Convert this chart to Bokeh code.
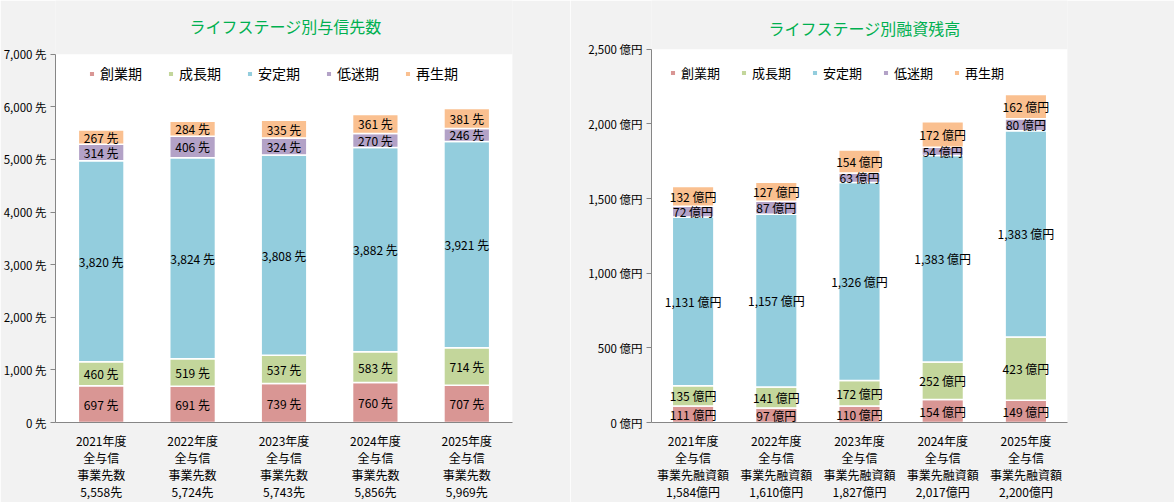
from bokeh.plotting import figure
from bokeh.models import (ColumnDataSource, FactorRange, Range1d, FixedTicker, Legend,
                          LegendItem, BoxAnnotation, Label)
from bokeh.layouts import row
from bokeh.embed import file_html
from bokeh.resources import INLINE
from bokeh.core.properties import value

FONT = "Noto Sans CJK JP"

stages = ["創業期", "成長期", "安定期", "低迷期", "再生期"]
colors = ["#d99694", "#c3d69b", "#93cddd", "#b3a2c7", "#fac090"]
years = ["2021年度", "2022年度", "2023年度", "2024年度", "2025年度"]

count_sogyo = [697, 691, 739, 760, 707]
count_seicho = [460, 519, 537, 583, 714]
count_antei = [3820, 3824, 3808, 3882, 3921]
count_teimei = [314, 406, 324, 270, 246]
count_saisei = [267, 284, 335, 361, 381]
count_total = ["5,558先", "5,724先", "5,743先", "5,856先", "5,969先"]

loan_sogyo = [111, 97, 110, 154, 149]
loan_seicho = [135, 141, 172, 252, 423]
loan_antei = [1131, 1157, 1326, 1383, 1383]
loan_teimei = [72, 87, 63, 54, 80]
loan_saisei = [132, 127, 154, 172, 162]
loan_total = ["1,584億円", "1,610億円", "1,827億円", "2,017億円", "2,200億円"]

left_ticks = [0, 1000, 2000, 3000, 4000, 5000, 6000, 7000]
right_ticks = [0, 500, 1000, 1500, 2000, 2500]

HEIGHT = 502
BG = "#f2f2f2"


def make_chart(title, series, cat_line, totals, unit, ticks, width,
               bl, br, base_px, top_px, title_cx, title_cy,
               leg_x, leg_cy, leg_font, leg_spacing):
    factors = [f"{y}\n全与信\n{cat_line}\n{t}" for y, t in zip(years, totals)]
    data = {"x": factors}
    for s, v in zip(stages, series):
        data[s] = v
    src = ColumnDataSource(data)

    ymax = ticks[-1]
    y_end = ymax * base_px / (base_px - top_px)   # frame reaches the top of the canvas

    p = figure(width=width, height=HEIGHT, x_range=FactorRange(*factors, range_padding=0),
               y_range=Range1d(0, y_end), output_backend="svg", toolbar_location=None,
               min_border_left=bl, min_border_right=br, min_border_top=0,
               min_border_bottom=HEIGHT - base_px)
    p.background_fill_color = BG
    p.border_fill_color = BG
    p.outline_line_color = None
    p.xgrid.grid_line_color = None
    p.ygrid.grid_line_color = None

    # white plot area
    p.add_layout(BoxAnnotation(bottom=0, top=ymax, fill_color="white", fill_alpha=1,
                               line_color=None, level="underlay"))

    frame_h = base_px
    p.add_layout(Label(x=title_cx, y=frame_h - title_cy, x_units="screen", y_units="screen",
                       text=title, text_align="center", text_baseline="middle",
                       text_color="#00b050", text_font=FONT, text_font_size="16px"))

    rs = p.vbar_stack(stages, x="x", width=0.5, color=colors, line_color="white",
                      line_width=1.5, source=src)

    # segment labels
    lx, ly, lt = [], [], []
    bottoms = [0] * len(years)
    for v in series:
        for i in range(len(years)):
            lx.append(factors[i])
            ly.append(bottoms[i] + v[i] / 2)
            lt.append(f"{v[i]:,} {unit}")
            bottoms[i] += v[i]
    lsrc = ColumnDataSource(dict(x=lx, y=ly, t=lt))
    p.text(x="x", y="y", text="t", source=lsrc, text_align="center", text_baseline="middle",
           text_font=value(FONT), text_font_size="12px", text_color="black")

    p.xaxis.major_tick_line_color = None
    p.xaxis.minor_tick_line_color = None
    p.xaxis.axis_line_color = "#868686"
    p.xaxis.major_label_text_font = FONT
    p.xaxis.major_label_text_font_size = "12px"
    p.xaxis.major_label_text_color = "black"
    p.xaxis.major_label_text_line_height = 1.0
    p.xaxis.major_label_standoff = 3

    p.yaxis.ticker = FixedTicker(ticks=ticks)
    p.yaxis.bounds = (0, ymax)
    p.yaxis.major_label_overrides = {t: f"{t:,} {unit}" for t in ticks}
    p.yaxis.minor_tick_line_color = None
    p.yaxis.major_tick_in = 0
    p.yaxis.major_tick_out = 5
    p.yaxis.axis_line_color = "#868686"
    p.yaxis.major_tick_line_color = "#868686"
    p.yaxis.major_label_text_font = FONT
    p.yaxis.major_label_text_font_size = "11.5px"
    p.yaxis.major_label_text_color = "black"
    p.yaxis.major_label_standoff = 4

    items = [LegendItem(label=s, renderers=[r]) for s, r in zip(stages, rs)]
    leg = Legend(items=items, orientation="horizontal", location=(leg_x, frame_h - leg_cy - 11),
                 background_fill_alpha=0, border_line_color=None, padding=0, margin=0,
                 glyph_width=7, glyph_height=7, label_standoff=5, spacing=leg_spacing,
                 label_text_font=FONT, label_text_font_size=leg_font,
                 label_height=14, label_text_color="black")
    p.add_layout(leg, "center")
    return p


p1 = make_chart("ライフステージ別与信先数",
                [count_sogyo, count_seicho, count_antei, count_teimei, count_saisei],
                "事業先数", count_total, "先", left_ticks, 570,
                54, 58, 424, 54, 230, 27, 33, 74, "14px", 25)
p2 = make_chart("ライフステージ別融資残高",
                [loan_sogyo, loan_seicho, loan_antei, loan_teimei, loan_saisei],
                "事業先融資額", loan_total, "億円", right_ticks, 604,
                81, 107, 424, 49, 213, 29, 18, 73, "13px", 20)

layout = row(p1, p2)
open("out.html", "w").write(file_html(layout, INLINE))
